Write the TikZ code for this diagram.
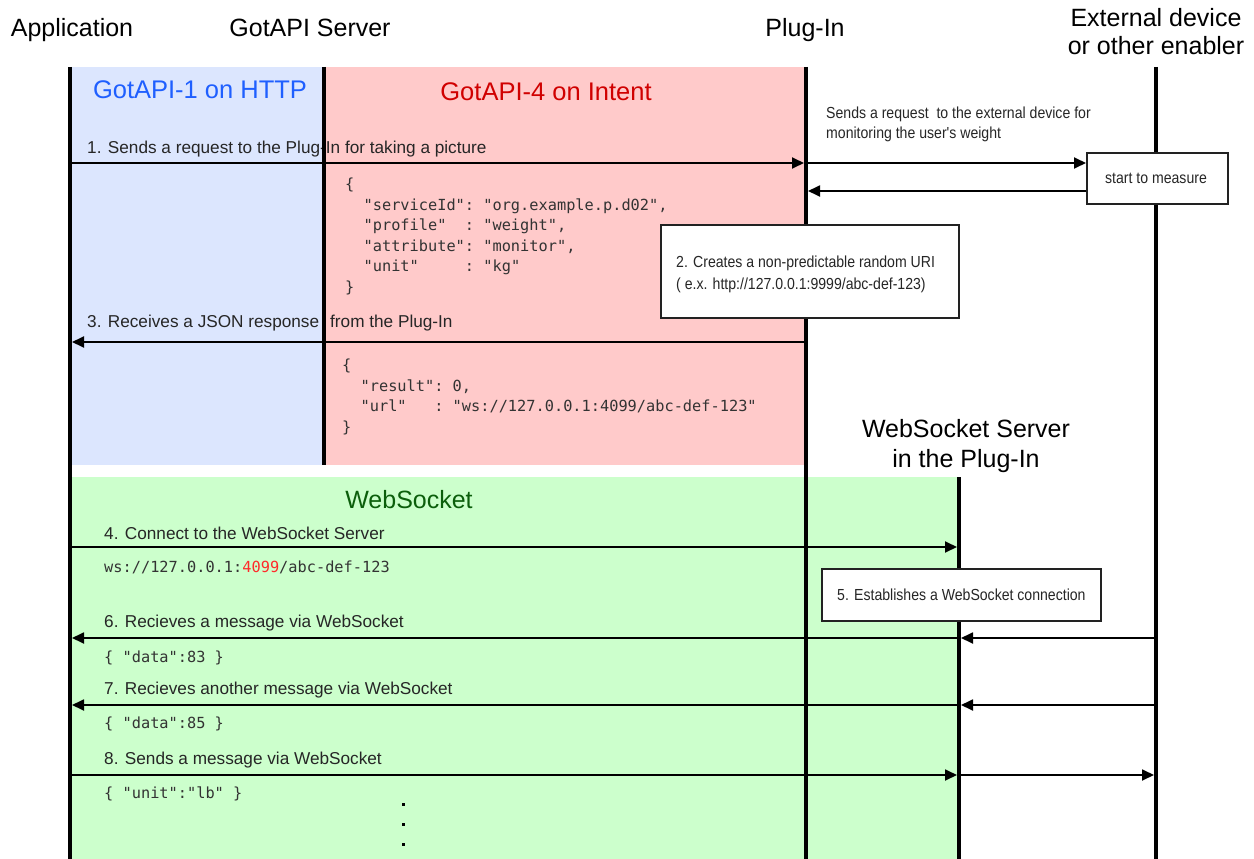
\documentclass[tikz,border=0pt]{standalone}
\usepackage{fontspec}
\setmainfont{Liberation Sans}
\setmonofont{DejaVu Sans Mono}
\newfontfamily\narrowfont[FakeStretch=0.88]{Liberation Sans}
\usetikzlibrary{arrows.meta}
\definecolor{bgblue}{HTML}{DCE6FE}
\definecolor{bgred}{HTML}{FFCACA}
\definecolor{bggreen}{HTML}{CCFFCC}
\definecolor{tblue}{HTML}{1F5FFF}
\definecolor{tred}{HTML}{D00000}
\definecolor{tgreen}{HTML}{0B5E0B}
\definecolor{monotxt}{HTML}{333333}
\definecolor{urlred}{HTML}{FF2A2A}
\definecolor{boxline}{HTML}{222222}
\begin{document}
\begin{tikzpicture}[x=1pt,y=-1pt,
  lifeline/.style={line width=4pt},
  msg/.style={line width=1.8pt,-{Triangle[length=12pt,width=11pt]}},
  head/.style={font=\fontsize{25}{28}\selectfont, anchor=base, inner sep=0pt},
  title/.style={font=\fontsize{25.5}{28}\selectfont, anchor=base, inner sep=0pt},
  lbl/.style={font=\fontsize{17.2}{20}\selectfont, anchor=base west, inner sep=0pt, text=black!85},
  json/.style={font=\ttfamily\fontsize{15.3}{20}\selectfont, anchor=base west, inner sep=0pt, text=monotxt},
  note/.style={font=\narrowfont\fontsize{16}{20}\selectfont, anchor=base west, inner sep=0pt, text=black!85},
  box/.style={draw=boxline, line width=1.8pt, fill=white, anchor=north west, inner sep=0pt},
  dot/.style={fill=black, minimum size=3pt, inner sep=0pt, shape=rectangle}
]
\useasboundingbox (0,0) rectangle (1254,859);
% backgrounds
\fill[bgblue] (72,67) rectangle (324,465);
\fill[bgred] (324,67) rectangle (806,465);
\fill[bggreen] (72,477) rectangle (959,859);

% headers
\node[head] (happ) at (72,37) {Application};
\node[head] (hgw) at (310,37) {GotAPI Server};
\node[head] (hpi) at (805,37) {Plug-In};
\node[head] (hext1) at (1156,27) {External device};
\node[head] (hext2) at (1156,55) {or other enabler};
\node[head] (hws1) at (966,437) {WebSocket Server};
\node[head] (hws2) at (966,467) {in the Plug-In};

% region titles
\node[title, text=tblue] (t1) at (200,99) {GotAPI-1 on HTTP};
\node[title, text=tred] (t4) at (546,100) {GotAPI-4 on Intent};
\node[head, text=tgreen] (tws) at (409,508) {WebSocket};

% message labels
\node[lbl] (l1) at (87,153) {1. Sends a request to the Plug-In for taking a picture};
\node[lbl] (l3) at (87,327) {3. Receives a JSON response};
\node[lbl] (l3b) at (330,327) {from the Plug-In};
\node[lbl] (l4) at (104,539) {4. Connect to the WebSocket Server};
\node[lbl] (l6) at (104,627) {6. Recieves a message via WebSocket};
\node[lbl] (l7) at (104,694) {7. Recieves another message via WebSocket};
\node[lbl] (l8) at (104,764) {8. Sends a message via WebSocket};

% JSON request
\node[json] (j1) at (345,189) {\{};
\node[json] (j2) at (345,210) {\ \ "serviceId":\ "org.example.p.d02",};
\node[json] (j3) at (345,230.5) {\ \ "profile"\ \ :\ "weight",};
\node[json] (j4) at (345,251) {\ \ "attribute":\ "monitor",};
\node[json] (j5) at (345,271.5) {\ \ "unit"\ \ \ \ \ :\ "kg"};
\node[json] (j6) at (345,292) {\}};

% JSON response
\node[json] (r1) at (342,370) {\{};
\node[json] (r2) at (342,391) {\ \ "result":\ 0,};
\node[json] (r3) at (342,411) {\ \ "url"\ \ \ :\ "ws://127.0.0.1:4099/abc-def-123"};
\node[json] (r4) at (342,432) {\}};

% websocket data
\node[json] (w1) at (104,572) {ws://127.0.0.1:\textcolor{urlred}{4099}/abc-def-123};
\node[json] (w2) at (104,662) {\{ "data":83 \}};
\node[json] (w3) at (104,728) {\{ "data":85 \}};
\node[json] (w4) at (104,798) {\{ "unit":"lb" \}};

% note to external device
\node[note] (n1) at (826,118) {Sends a request\ \ to the external device for};
\node[note] (n2) at (826,139) {monitoring the user's weight};

% lifelines
\coordinate (appT) at (70,67);   \coordinate (appB) at (70,859);
\coordinate (gwT) at (324,67);   \coordinate (gwB) at (324,465);
\coordinate (piT) at (806,67);   \coordinate (piB) at (806,859);
\coordinate (wsT) at (959,477);  \coordinate (wsB) at (959,859);
\coordinate (extT) at (1156,67); \coordinate (extB) at (1156,859);
\draw[lifeline] (appT) -- (appB);
\draw[lifeline] (gwT) -- (gwB);
\draw[lifeline] (piT) -- (piB);
\draw[lifeline] (wsT) -- (wsB);
\draw[lifeline] (extT) -- (extB);

% boxes
\node[box, minimum width=141pt, minimum height=51pt] (measure) at (1086,152) {};
\node[font=\narrowfont\fontsize{16}{20}\selectfont, anchor=base, inner sep=0pt, text=black!85] (measuretxt) at (1156,183) {start to measure};
\node[box, minimum width=298pt, minimum height=93pt] (uri) at (660,224) {};
\node[note] (uri1) at (676,267) {2. Creates a non-predictable random URI};
\node[note] (uri2) at (676,289) {( e.x. http://127.0.0.1:9999/abc-def-123)};
\node[box, minimum width=279pt, minimum height=52pt] (estab) at (821,568) {};
\node[note] (estabtxt) at (837,600) {5. Establishes a WebSocket connection};

% arrow end points
\coordinate (a1) at (72,163);  \coordinate (p1) at (804,163);
\coordinate (p1r) at (808,163);
\coordinate (p2r) at (808,191);
\coordinate (a3) at (72,342);  \coordinate (p3) at (804,342);
\coordinate (a4) at (72,547);  \coordinate (s4) at (957,547);
\coordinate (a6) at (72,638);  \coordinate (s6) at (957,638);
\coordinate (s6r) at (961,638); \coordinate (e6) at (1154,638);
\coordinate (a7) at (72,705);  \coordinate (s7) at (957,705);
\coordinate (s7r) at (961,705); \coordinate (e7) at (1154,705);
\coordinate (a8) at (72,775);  \coordinate (s8) at (957,775);
\coordinate (s8r) at (961,775); \coordinate (e8) at (1154,775);

% messages
\draw[msg] (a1) -- (p1);
\draw[msg] (p1r) -- (measure.west |- p1r);
\draw[msg] (measure.west |- p2r) -- (p2r);
\draw[msg] (p3) -- (a3);
\draw[msg] (a4) -- (s4);
\draw[msg] (e6) -- (s6r);
\draw[msg] (s6) -- (a6);
\draw[msg] (e7) -- (s7r);
\draw[msg] (s7) -- (a7);
\draw[msg] (a8) -- (s8);
\draw[msg] (s8r) -- (e8);

% continuation dots
\node[dot] (d1) at (403,804) {};
\node[dot] (d2) at (403,824) {};
\node[dot] (d3) at (403,844) {};
\end{tikzpicture}
\end{document}
